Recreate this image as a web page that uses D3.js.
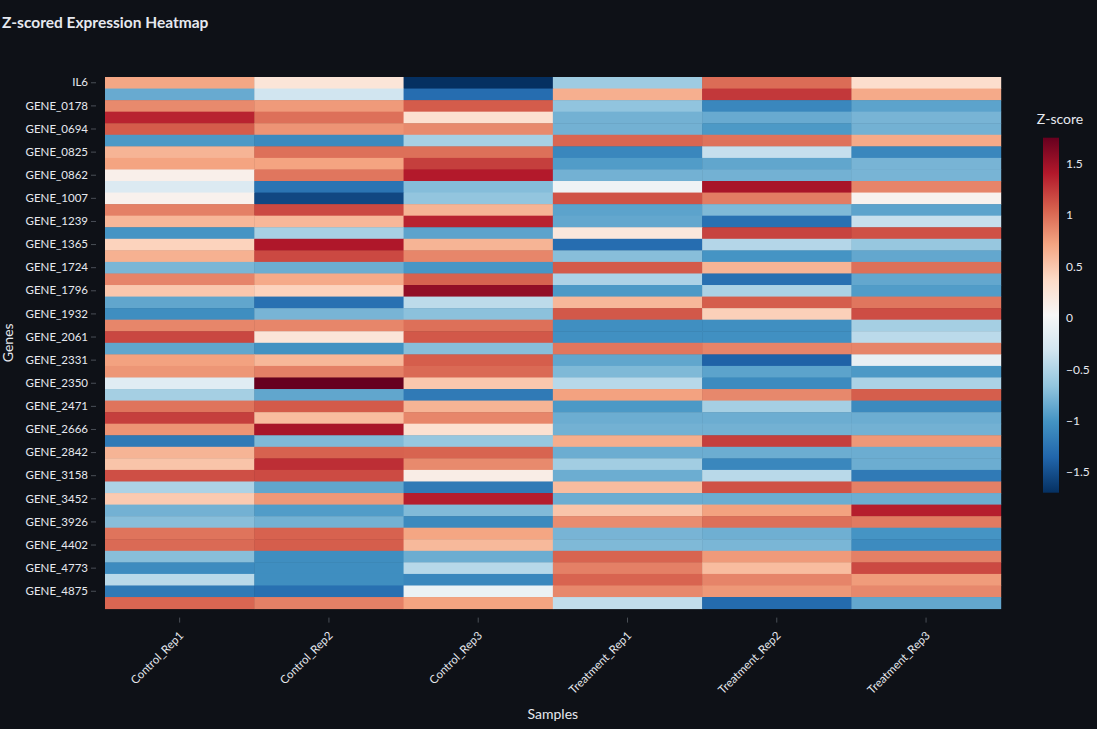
<!DOCTYPE html>
<html>
<head>
<meta charset="utf-8">
<script src="https://cdn.jsdelivr.net/npm/d3@7"></script>
<style>
  html, body { margin: 0; padding: 0; background: #0e1117; }
  svg text { font-family: Lato, "Noto Sans", sans-serif; fill: #e6e9ef; }
</style>
</head>
<body>
<svg id="chart" width="1097" height="729"></svg>
<script>
// samples (columns)
const samples = ["Control_Rep1", "Control_Rep2", "Control_Rep3", "Treatment_Rep1", "Treatment_Rep2", "Treatment_Rep3"];

// genes (rows); only every other one gets a tick label, as in the original
const genes = [
  "IL6", "GENE_0093", "GENE_0178", "GENE_0412", "GENE_0694", "GENE_0751",
  "GENE_0825", "GENE_0840", "GENE_0862", "GENE_0937", "GENE_1007", "GENE_1120",
  "GENE_1239", "GENE_1302", "GENE_1365", "GENE_1588", "GENE_1724", "GENE_1760",
  "GENE_1796", "GENE_1853", "GENE_1932", "GENE_2004", "GENE_2061", "GENE_2197",
  "GENE_2331", "GENE_2342", "GENE_2350", "GENE_2419", "GENE_2471", "GENE_2583",
  "GENE_2666", "GENE_2750", "GENE_2842", "GENE_3027", "GENE_3158", "GENE_3301",
  "GENE_3452", "GENE_3688", "GENE_3926", "GENE_4150", "GENE_4402", "GENE_4591",
  "GENE_4773", "GENE_4829", "GENE_4875", "GENE_4961"
];

// z-scores, one row per gene, in sample order
const zscores = [
  [ 0.70,  0.25, -1.70, -0.60,  1.00,  0.33],
  [-0.85, -0.32, -1.30,  0.65,  1.25,  0.68],
  [ 0.85,  0.77,  1.08, -0.67, -1.10, -0.90],
  [ 1.35,  0.98,  0.30, -0.80, -0.85, -0.78],
  [ 1.08,  0.80,  0.85, -0.80, -0.97, -0.80],
  [-0.97, -1.08, -0.55,  1.03,  0.97,  0.68],
  [ 0.62,  0.98,  0.98, -1.10, -0.38, -1.10],
  [ 0.72,  0.72,  1.22, -0.95, -0.88, -0.78],
  [ 0.12,  0.95,  1.40, -0.80, -0.80, -0.78],
  [-0.22, -1.25, -0.72, -0.05,  1.45,  0.88],
  [ 0.10, -1.55, -0.66,  1.12,  0.92,  0.10],
  [ 0.90,  1.17,  0.62, -0.90, -0.75, -0.90],
  [ 0.60,  0.60,  1.35, -0.87, -1.27, -0.38],
  [-1.00, -0.55, -0.90,  0.22,  1.20,  1.13],
  [ 0.42,  1.42,  0.62, -1.30, -0.48, -0.64],
  [ 0.64,  1.17,  0.87, -0.71, -1.00, -0.87],
  [-0.77, -0.83, -0.99,  1.09,  0.62,  0.98],
  [ 0.88,  0.68,  1.05, -0.52, -1.28, -0.87],
  [ 0.50,  0.42,  1.55, -0.97, -0.53, -0.95],
  [-0.88, -1.27, -0.43,  0.60,  1.07,  0.95],
  [-1.05, -0.78, -0.69,  1.10,  0.44,  1.15],
  [ 0.87,  0.87,  0.98, -1.04, -1.04, -0.56],
  [ 1.18,  0.25,  1.10, -1.03, -1.03, -0.44],
  [-0.88, -1.02, -0.71,  0.95,  0.88,  0.88],
  [ 0.73,  0.60,  1.07, -0.88, -1.38, -0.12],
  [ 0.79,  0.90,  1.01, -0.75, -0.90, -0.97],
  [-0.18,  1.75,  0.50, -0.46, -1.07, -0.53],
  [-0.56, -0.88, -1.20,  0.73,  0.86,  1.07],
  [ 0.96,  1.09,  0.62, -0.97, -0.56, -1.08],
  [ 1.22,  0.57,  0.87, -0.83, -0.83, -0.83],
  [ 0.80,  1.45,  0.30, -0.80, -0.80, -0.80],
  [-1.20, -0.75, -0.64,  0.66,  1.22,  0.78],
  [ 0.62,  1.05,  1.04, -0.83, -0.83, -0.83],
  [ 0.52,  1.30,  0.85, -0.58, -1.10, -0.83],
  [ 1.14,  1.16,  0.15, -0.83, -0.45, -1.20],
  [-0.52, -0.88, -1.20,  0.57,  1.13,  0.90],
  [ 0.48,  0.78,  1.38, -0.83, -0.83, -0.83],
  [-0.80, -0.95, -0.74,  0.52,  0.73,  1.38],
  [-0.71, -0.80, -1.08,  0.84,  0.98,  0.93],
  [ 0.96,  1.05,  0.71, -0.78, -0.82, -1.00],
  [ 1.01,  1.07,  0.59, -0.75, -0.77, -1.07],
  [-0.71, -1.05, -0.83,  1.04,  0.77,  0.90],
  [-1.07, -1.05, -0.46,  0.90,  0.57,  1.17],
  [-0.45, -1.05, -1.10,  1.04,  0.88,  0.76],
  [-1.20, -1.28, -0.08,  0.86,  0.78,  0.86],
  [ 1.03,  0.90,  0.72, -0.41, -1.32, -0.87]
];

// RdBu reversed, low to high
const palette = ["#053061", "#2166ac", "#4393c3", "#92c5de", "#d1e5f0", "#f7f7f7",
                 "#fddbc7", "#f4a582", "#d6604d", "#b2182b", "#67001f"];
const colorbarTicks = [-1.5, -1, -0.5, 0, 0.5, 1, 1.5];

const W = 1097, H = 729;
const plot = { left: 105, top: 77, right: 1000.7, bottom: 608.6 };
const bar = { left: 1043, width: 16, top: 137.7, bottom: 492.7 };

const svg = d3.select("#chart");
svg.append("rect").attr("width", W).attr("height", H).attr("fill", "#0e1117");

const cells = [];
zscores.forEach((row, i) => row.forEach((v, j) => cells.push({ gene: genes[i], sample: samples[j], value: v })));

const x = d3.scaleBand().domain(samples).range([plot.left, plot.right]);
const y = d3.scaleBand().domain(genes).range([plot.top, plot.bottom]);

const [zmin, zmax] = d3.extent(cells, d => d.value);
const color = d3.scaleLinear()
  .domain(palette.map((c, i) => zmin + (zmax - zmin) * i / (palette.length - 1)))
  .range(palette)
  .interpolate(d3.interpolateRgb);

// cells
svg.append("g").selectAll("rect")
  .data(cells)
  .enter()
  .append("rect")
  .attr("x", d => x(d.sample))
  .attr("y", d => y(d.gene))
  .attr("width", x.bandwidth() + 0.5)
  .attr("height", y.bandwidth() + 0.5)
  .attr("fill", d => color(d.value));

// x axis
const xAxis = svg.append("g")
  .attr("transform", `translate(0,${plot.bottom + 9})`)
  .call(d3.axisBottom(x).tickSize(5).tickSizeOuter(0));
xAxis.select(".domain").remove();
xAxis.selectAll(".tick line").attr("stroke", "#4a4f57");
xAxis.selectAll(".tick text")
  .attr("font-size", 11.5)
  .attr("text-anchor", "end")
  .attr("dy", 0)
  .attr("transform", "translate(-1,13) rotate(-45)");

// y axis, every other label
const yAxis = svg.append("g")
  .attr("transform", `translate(${plot.left - 9},0)`)
  .call(d3.axisLeft(y).tickValues(genes.filter((g, i) => i % 2 === 0)).tickSize(5).tickSizeOuter(0));
yAxis.select(".domain").remove();
yAxis.selectAll(".tick line").attr("stroke", "#4a4f57");
yAxis.selectAll(".tick text").attr("font-size", 11.5).attr("x", -8);

// titles
svg.append("text")
  .attr("x", 2).attr("y", 28)
  .attr("font-size", 15.5).attr("font-weight", "bold")
  .attr("fill", "#fafafa")
  .text("Z-scored Expression Heatmap");

svg.append("text")
  .attr("x", (plot.left + plot.right) / 2).attr("y", 719)
  .attr("text-anchor", "middle").attr("font-size", 14)
  .text("Samples");

svg.append("text")
  .attr("transform", `translate(13,${(plot.top + plot.bottom) / 2}) rotate(-90)`)
  .attr("text-anchor", "middle").attr("font-size", 14)
  .text("Genes");

// colorbar
const grad = svg.append("defs").append("linearGradient")
  .attr("id", "zgrad").attr("x1", 0).attr("y1", 1).attr("x2", 0).attr("y2", 0);
grad.selectAll("stop")
  .data(palette)
  .enter()
  .append("stop")
  .attr("offset", (d, i) => i / (palette.length - 1))
  .attr("stop-color", d => d);

svg.append("rect")
  .attr("x", bar.left).attr("y", bar.top)
  .attr("width", bar.width).attr("height", bar.bottom - bar.top)
  .attr("fill", "url(#zgrad)");

const zScale = d3.scaleLinear().domain([zmin, zmax]).range([bar.bottom, bar.top]);
const cAxis = svg.append("g")
  .attr("transform", `translate(${bar.left + bar.width},0)`)
  .call(d3.axisRight(zScale).tickValues(colorbarTicks).tickSize(0).tickFormat(d3.format("")));
cAxis.select(".domain").remove();
cAxis.selectAll(".tick text").attr("font-size", 12).attr("x", 7);

svg.append("text")
  .attr("x", 1060).attr("y", 124)
  .attr("text-anchor", "middle").attr("font-size", 14)
  .text("Z-score");
</script>
</body>
</html>
